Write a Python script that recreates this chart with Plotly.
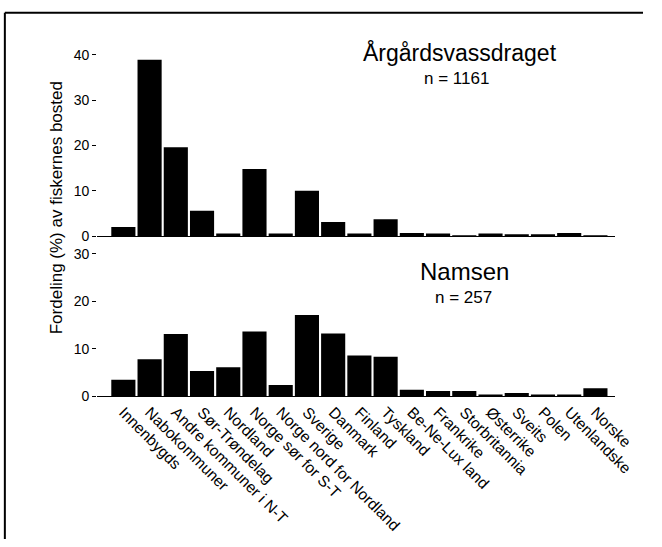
import plotly.graph_objects as go

categories = ["Innenbygds", "Nabokommuner", "Andre kommuner i N-T", "Sør-Trøndelag",
              "Nordland", "Norge sør for S-T", "Norge nord for Nordland", "Sverige",
              "Danmark", "Finland", "Tyskland", "Be-Ne-Lux land", "Frankrike",
              "Storbritannia", "Østerrike", "Sveits", "Polen", "Utenlandske", "Norske"]
argards = [2.0, 38.9, 19.6, 5.6, 0.6, 14.8, 0.6, 10.0, 3.1, 0.6, 3.7, 0.7, 0.6,
           0.1, 0.6, 0.2, 0.2, 0.7, 0.1]
namsen = [3.5, 7.8, 13.1, 5.3, 6.1, 13.6, 2.4, 17.1, 13.2, 8.6, 8.3, 1.4, 1.1,
          1.1, 0.2, 0.7, 0.3, 0.3, 1.7]
top_ticks = [0, 10, 20, 30, 40]
bottom_ticks = [0, 10, 20, 30]

W, H = 662, 547
FONT = "Liberation Sans, Arial, sans-serif"

def px(x):
    return x / W

def py(y):
    return 1 - y / H

fig = go.Figure()
fig.add_trace(go.Bar(x=categories, y=argards, xaxis="x", yaxis="y",
                     marker=dict(color="black", line=dict(width=0)), width=0.92))
fig.add_trace(go.Bar(x=categories, y=namsen, xaxis="x2", yaxis="y2",
                     marker=dict(color="black", line=dict(width=0)), width=0.92))

xdom = [px(100), px(633)]
xr = [-1.0, 18.74]
fig.update_layout(
    width=W, height=H, margin=dict(l=0, r=0, t=0, b=0),
    paper_bgcolor="white", plot_bgcolor="white", showlegend=False,
    font=dict(family=FONT, color="black", size=14),
    xaxis=dict(domain=xdom, range=xr, anchor="y", showticklabels=False,
               showline=True, linecolor="black", linewidth=1, ticks="",
               showgrid=False, zeroline=False),
    yaxis=dict(domain=[py(235), py(43.5)], range=[0, 41], anchor="x",
               tickvals=top_ticks, ticks="outside", ticklen=4, tickcolor="black",
               showline=False, showgrid=False, zeroline=False,
               tickfont=dict(size=14)),
    xaxis2=dict(domain=xdom, range=xr, anchor="y2", tickangle=45,
                showline=True, linecolor="black", linewidth=1, ticks="",
                showgrid=False, zeroline=False, tickfont=dict(size=15.5)),
    yaxis2=dict(domain=[py(400), py(253)], range=[0, 30], anchor="x2",
                tickvals=bottom_ticks, ticks="outside", ticklen=4, tickcolor="black",
                showline=False, showgrid=False, zeroline=False,
                tickfont=dict(size=14)),
)

ann = [
    dict(text="Årgårdsvassdraget", x=px(474), y=py(46), size=23),
    dict(text="n = 1161", x=px(470), y=py(73), size=17),
    dict(text="Namsen", x=px(478), y=py(271), size=24),
    dict(text="n = 257", x=px(477), y=py(298), size=17),
]
for a in ann:
    fig.add_annotation(text=a["text"], x=a["x"], y=a["y"], xref="paper", yref="paper",
                       showarrow=False, xanchor="center", yanchor="middle",
                       font=dict(size=a["size"], family=FONT, color="black"))

fig.add_annotation(text="Fordeling (%) av fiskernes bosted", textangle=-90,
                   x=px(59), y=py(206), xref="paper", yref="paper", showarrow=False,
                   xanchor="center", yanchor="middle",
                   font=dict(size=17, family=FONT, color="black"))

# frame lines (top and left)
fig.add_shape(type="line", xref="paper", yref="paper", x0=px(5), x1=1, y0=py(5), y1=py(5),
              line=dict(color="black", width=2))
fig.add_shape(type="line", xref="paper", yref="paper", x0=px(5), x1=px(5), y0=py(5), y1=0,
              line=dict(color="black", width=2))

fig.write_html("out.html")
